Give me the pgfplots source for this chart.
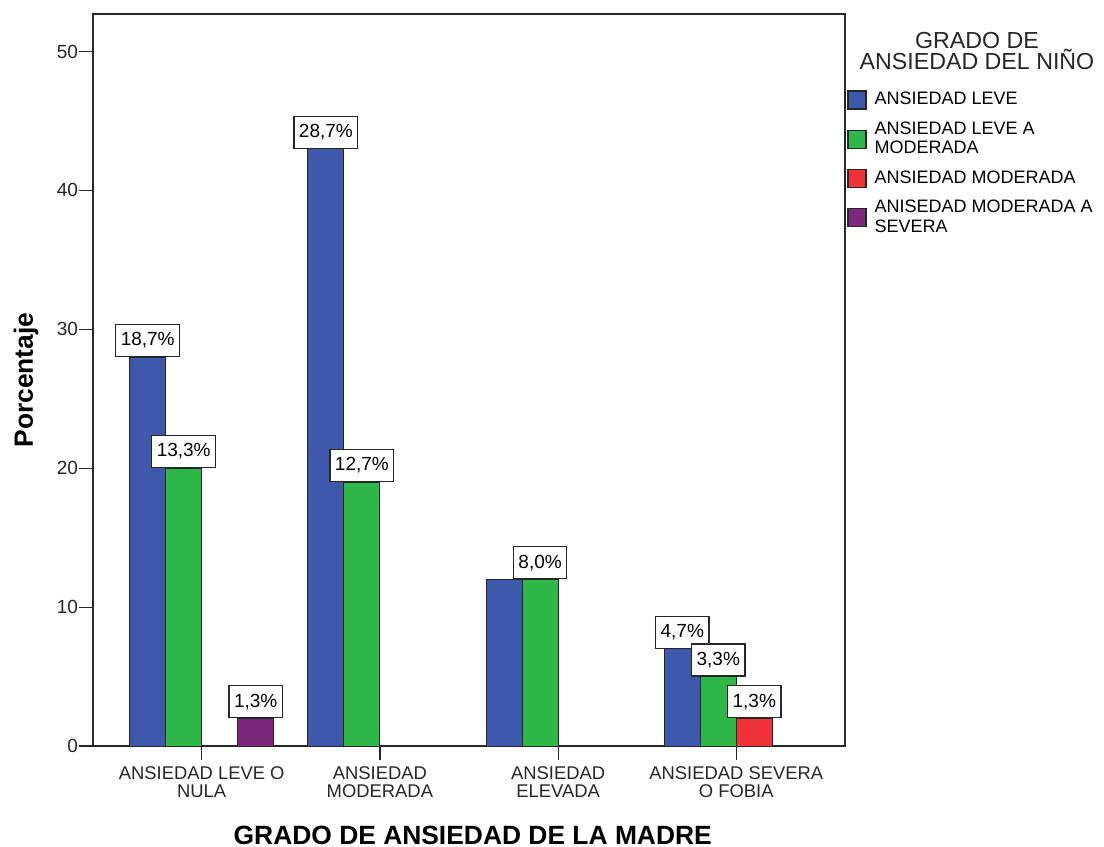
\documentclass[border=0pt]{standalone}
\usepackage{fontspec}
\setmainfont{Liberation Sans}
\usepackage{pgfplots}
\usepackage{pgfplotstable}
\pgfplotsset{compat=1.18}

\definecolor{cBlue}{HTML}{3E58AC}
\definecolor{cGreen}{HTML}{2EB848}
\definecolor{cRed}{HTML}{EF3338}
\definecolor{cPurple}{HTML}{7C287D}

% Recuentos por grupo de la madre (0..3); total de casos = 150
\newcommand\total{150}
\pgfplotstableread{
g n
0 28
1 43
3 7
}\leveLab
\pgfplotstableread{
g n
2 12
}\leveSin
\pgfplotstableread{
g n
0 20
1 19
2 12
3 5
}\leveMod
\pgfplotstableread{
g n
3 2
}\moderada
\pgfplotstableread{
g n
0 2
}\modSevera

% desplazamiento de cada barra dentro del grupo (unidades del eje)
% 1 unidad del eje = 376bp / 4.22 = 89.1bp
\pgfplotsset{
  grupo/.style={ybar, bar width=0.2021, bar shift=#1, draw=black!85, line width=0.5bp,
    legend image code/.code={\draw[##1, line width=0.6bp] (0bp,-4.5bp) rectangle (9bp,4.5bp);}},
  etiqueta/.style={
    point meta={\thisrow{n}*100/\total},
    nodes near coords={\pgfmathprintnumber[fixed,fixed zerofill,precision=1,use comma]{\pgfplotspointmeta}\%},
    every node near coord/.append style={xshift=#1},
  },
}

\begin{document}
\begin{tikzpicture}
\path[use as bounding box] (-46.5bp,-50.5bp) rectangle (505.5bp,373bp);
\begin{axis}[
  scale only axis, width=376bp, height=366bp,
  xmin=-0.61, xmax=3.61, ymin=0, ymax=52.7,
  xtick={0,1,2,3},
  xticklabels={{ANSIEDAD LEVE O\\NULA},{ANSIEDAD\\MODERADA},{ANSIEDAD\\ELEVADA},{ANSIEDAD SEVERA\\O FOBIA}},
  ytick={0,10,20,30,40,50},
  tick align=outside, xtick pos=bottom, ytick pos=left,
  major tick length=7bp,
  tick style={black!85, line width=0.6bp},
  axis line style={black!85, line width=0.6bp},
  /pgf/number format/assume math mode=true,
  yticklabel style={font=\fontsize{9.5bp}{9bp}\selectfont, text=black!85, xshift=3bp},
  xticklabel style={align=center, font=\fontsize{9.2bp}{8.8bp}\selectfont, text=black!85},
  ylabel={Porcentaje}, xlabel={GRADO DE ANSIEDAD DE LA MADRE},
  label style={font=\fontsize{13.2bp}{15bp}\selectfont\bfseries},
  ylabel style={at={(axis description cs:-0.0798,0.5)}, anchor=base},
  xlabel style={at={(axis description cs:0.505,-0.1339)}, anchor=base},
  legend style={at={(1,1)}, anchor=north west, xshift=1bp, yshift=-38bp,
    draw=none, fill=none, inner sep=0pt, row sep=6bp, column sep=4bp,
    font=\fontsize{9bp}{9.85bp}\selectfont,
    nodes={anchor=west, align=left, inner sep=0pt}},
  legend cell align=left,
  every node near coord/.append style={draw=black!85, fill=white, line width=0.6bp,
    font=\fontsize{9.5bp}{9.5bp}\selectfont, text=black,
    inner xsep=2.5bp, inner ysep=3.8bp, text height=6.9bp, text depth=1.5bp, anchor=south},
  clip=false,
]
\addplot[grupo=-0.3032, fill=cBlue, etiqueta=-27bp] table[x=g, y=n] {\leveLab};
\addlegendentry{ANSIEDAD LEVE}
\addplot[grupo=-0.3032, fill=cBlue, forget plot] table[x=g, y=n] {\leveSin};
\addplot[grupo=-0.1011, fill=cGreen, etiqueta=-9bp] table[x=g, y=n] {\leveMod};
\addlegendentry{ANSIEDAD LEVE A\\MODERADA}
\addplot[grupo=0.1011, fill=cRed, etiqueta=9bp] table[x=g, y=n] {\moderada};
\addlegendentry{ANSIEDAD MODERADA}
\addplot[grupo=0.3032, fill=cPurple, etiqueta=27bp] table[x=g, y=n] {\modSevera};
\addlegendentry{ANISEDAD MODERADA A\\SEVERA}
\node[anchor=north, align=center, inner sep=0pt,
      font={\fontsize{11.6bp}{10.6bp}\selectfont\lineskiplimit=-6bp}, text=black!85]
  at ([xshift=66bp, yshift=-9bp]axis description cs:1,1) {GRADO DE\\ANSIEDAD DEL NIÑO};
\end{axis}
\end{tikzpicture}
\end{document}
